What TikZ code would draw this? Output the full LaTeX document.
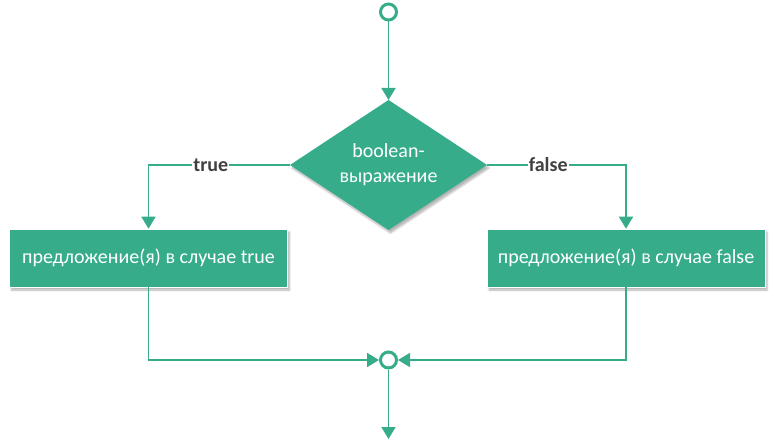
\documentclass[tikz,border=0pt]{standalone}
\usepackage{fontspec}
\setmainfont{Carlito}
\usepackage{tikz}
\usetikzlibrary{
  arrows.meta, shapes.geometric, positioning, shadows.blur
}
\definecolor{flowgreen}{HTML}{36AC8B}
\definecolor{labelgray}{HTML}{404040}
\tikzset{
  terminal/.style={
    circle, draw=flowgreen, line width=3pt, fill=white,
    minimum size=16pt, inner sep=0pt
  },
  decision/.style={
    diamond, fill=flowgreen, draw=none, aspect=2.2,
    minimum width=197pt, minimum height=130pt, inner sep=0pt, outer sep=0pt,
    align=center, font=\fontsize{20}{25}\selectfont, text=white,
    blur shadow={shadow xshift=2pt, shadow yshift=-3pt, shadow blur steps=6, shadow opacity=30}
  },
  action/.style={
    rectangle, fill=flowgreen, draw=white, line width=0.6pt,
    minimum width=278pt, minimum height=58pt,
    align=center, font=\fontsize{20}{24}\selectfont, text=white,
    blur shadow={shadow xshift=2pt, shadow yshift=-3pt, shadow blur steps=6, shadow opacity=30}
  },
  arrow/.style={-{Triangle[width=14pt,length=12pt]}, line width=1.8pt, draw=flowgreen},
  branch/.style={
    fill=white, inner sep=1pt, text=labelgray,
    font=\fontsize{20}{24}\selectfont\bfseries
  }
}
\begin{document}
\begin{tikzpicture}[x=1pt, y=1pt]
  \useasboundingbox (0,0) rectangle (775,440);

  \node[terminal] at (388.5,428) (start) {};
  \node[decision] at (388.5,275) (cond) {boolean-\\выражение};
  \node[action] at (148.5,182) (casetrue) {предложение(я) в случае true};
  \node[action] at (626,182) (casefalse) {предложение(я) в случае false};
  \node[terminal] at (388.5,80) (merge) {};
  \coordinate (exit) at (388.5,1);

  \draw[arrow] (start) -- (cond.north);
  \draw[arrow] (cond.west) -| node[branch, pos=0.28]{true} (casetrue.north);
  \draw[arrow] (cond.east) -| node[branch, pos=0.22]{false} (casefalse.north);
  \draw[arrow] (casetrue.south) |- (merge.west);
  \draw[arrow] (casefalse.south) |- (merge.east);
  \draw[arrow] (merge) -- (exit);
\end{tikzpicture}
\end{document}
